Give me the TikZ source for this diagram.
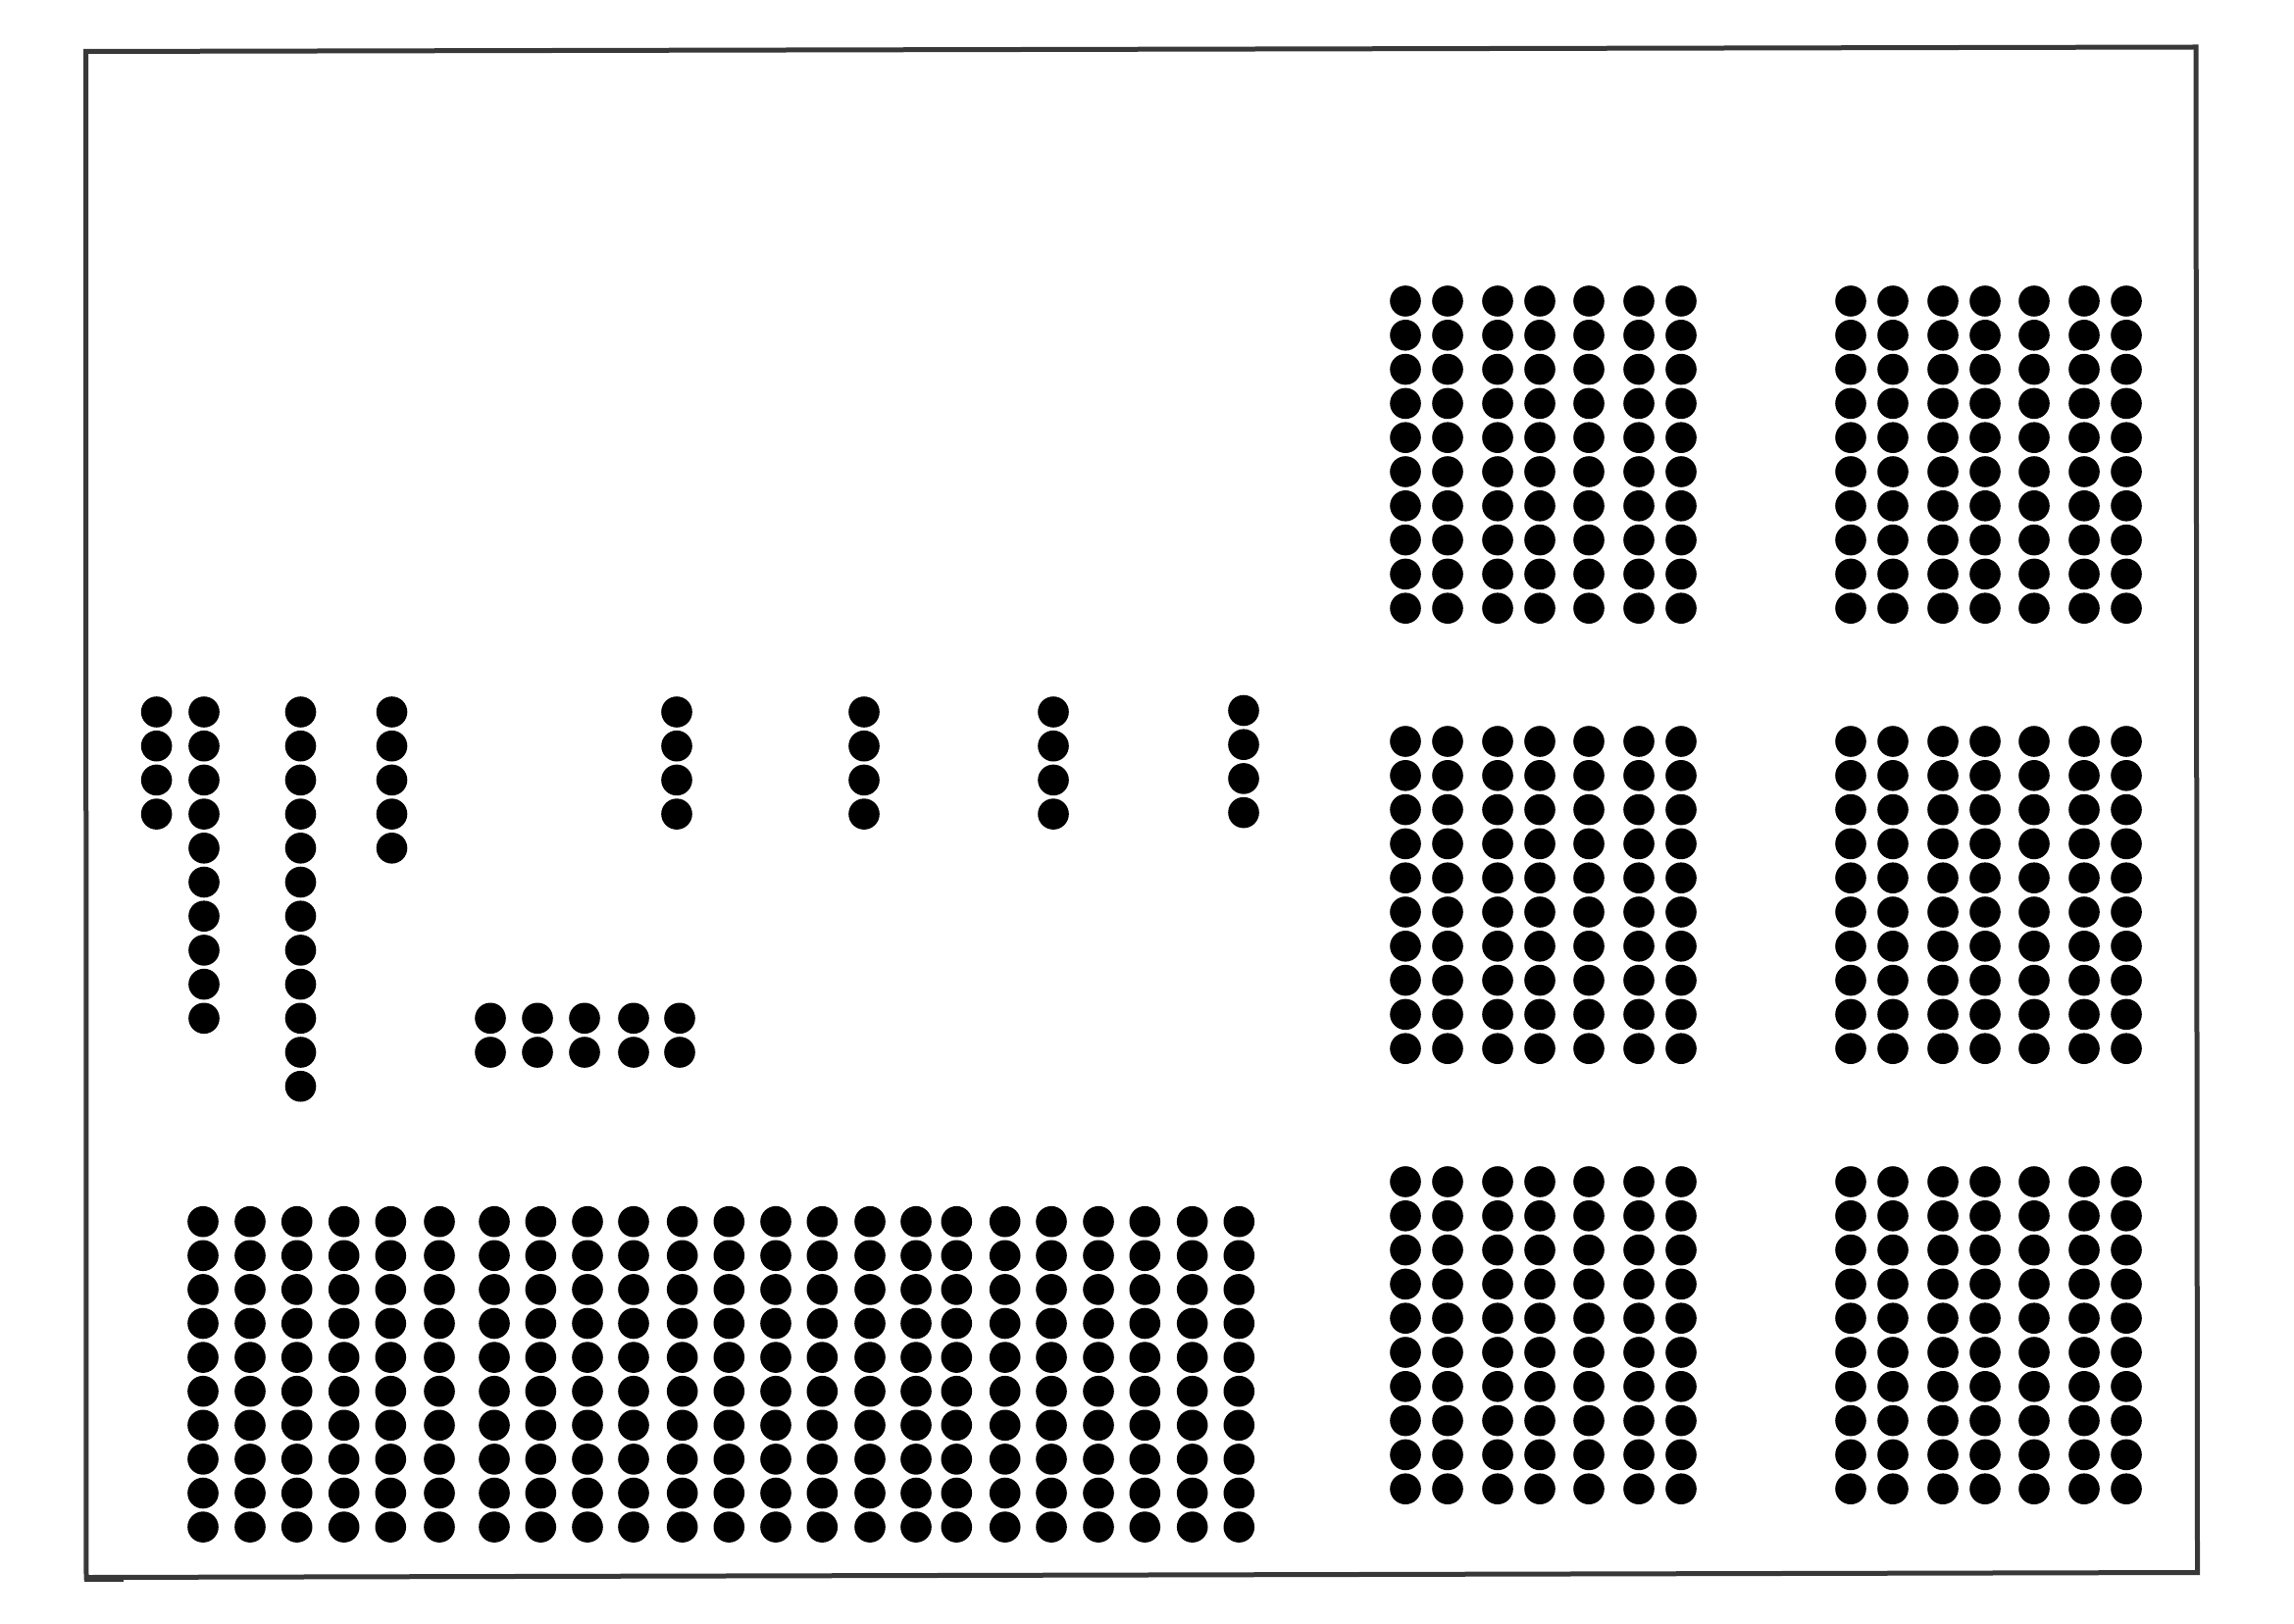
\documentclass[tikz,border=0pt]{standalone}
\begin{document}
\begin{tikzpicture}[x=0.1mm,y=-0.1mm,
  dot/.style={fill=black},
  framecol/.style={draw=black!78, line width=0.5mm, line join=miter}]
\useasboundingbox (0,0) rectangle (2339,1656);
\fill[white] (0,0) rectangle (2339,1656);
\def\R{1.58mm}
% frame
\draw[framecol] (87.5,52.5) -- (2239,48) -- (2240.5,1603.5) -- (88,1608.5) -- cycle;
\fill[black!78] (86,1606) rectangle (126,1612.5);
% left vertical columns
\foreach \k in {0,...,3} \fill[dot] (159.6,726+34.7*\k) circle[radius=\R];
\foreach \k in {0,...,9} \fill[dot] (208,726+34.7*\k) circle[radius=\R];
\foreach \k in {0,...,11} \fill[dot] (306.5,726+34.7*\k) circle[radius=\R];
\foreach \k in {0,...,4} \fill[dot] (399.5,726+34.7*\k) circle[radius=\R];
% four-dot columns
\foreach \x in {690,881,1074} \foreach \k in {0,...,3} \fill[dot] (\x,726+34.7*\k) circle[radius=\R];
\foreach \k in {0,...,3} \fill[dot] (1268,724.5+34.7*\k) circle[radius=\R];
% 2 x 5 block
\foreach \x in {500,548,596,646,693} \foreach \k in {9,10} \fill[dot] (\x,726+34.7*\k) circle[radius=\R];
% bottom big grid
\foreach \x in {207,255,302.7,350.7,398.3,448,504,551.3,599,646,695.7,743.3,791,838.3,887,934,975.3,1024.7,1072,1120,1167.3,1215.7,1263.3}
  \foreach \k in {0,...,9} \fill[dot] (\x,1245.7+34.6*\k) circle[radius=\R];
% right grids
\foreach \bx in {1433,1887}
  \foreach \by in {307,756,1205}
    \foreach \dx in {0,43,94,137,187,238,281}
      \foreach \k in {0,...,9} \fill[dot] (\bx+\dx,\by+34.8*\k) circle[radius=\R];
\end{tikzpicture}
\end{document}
